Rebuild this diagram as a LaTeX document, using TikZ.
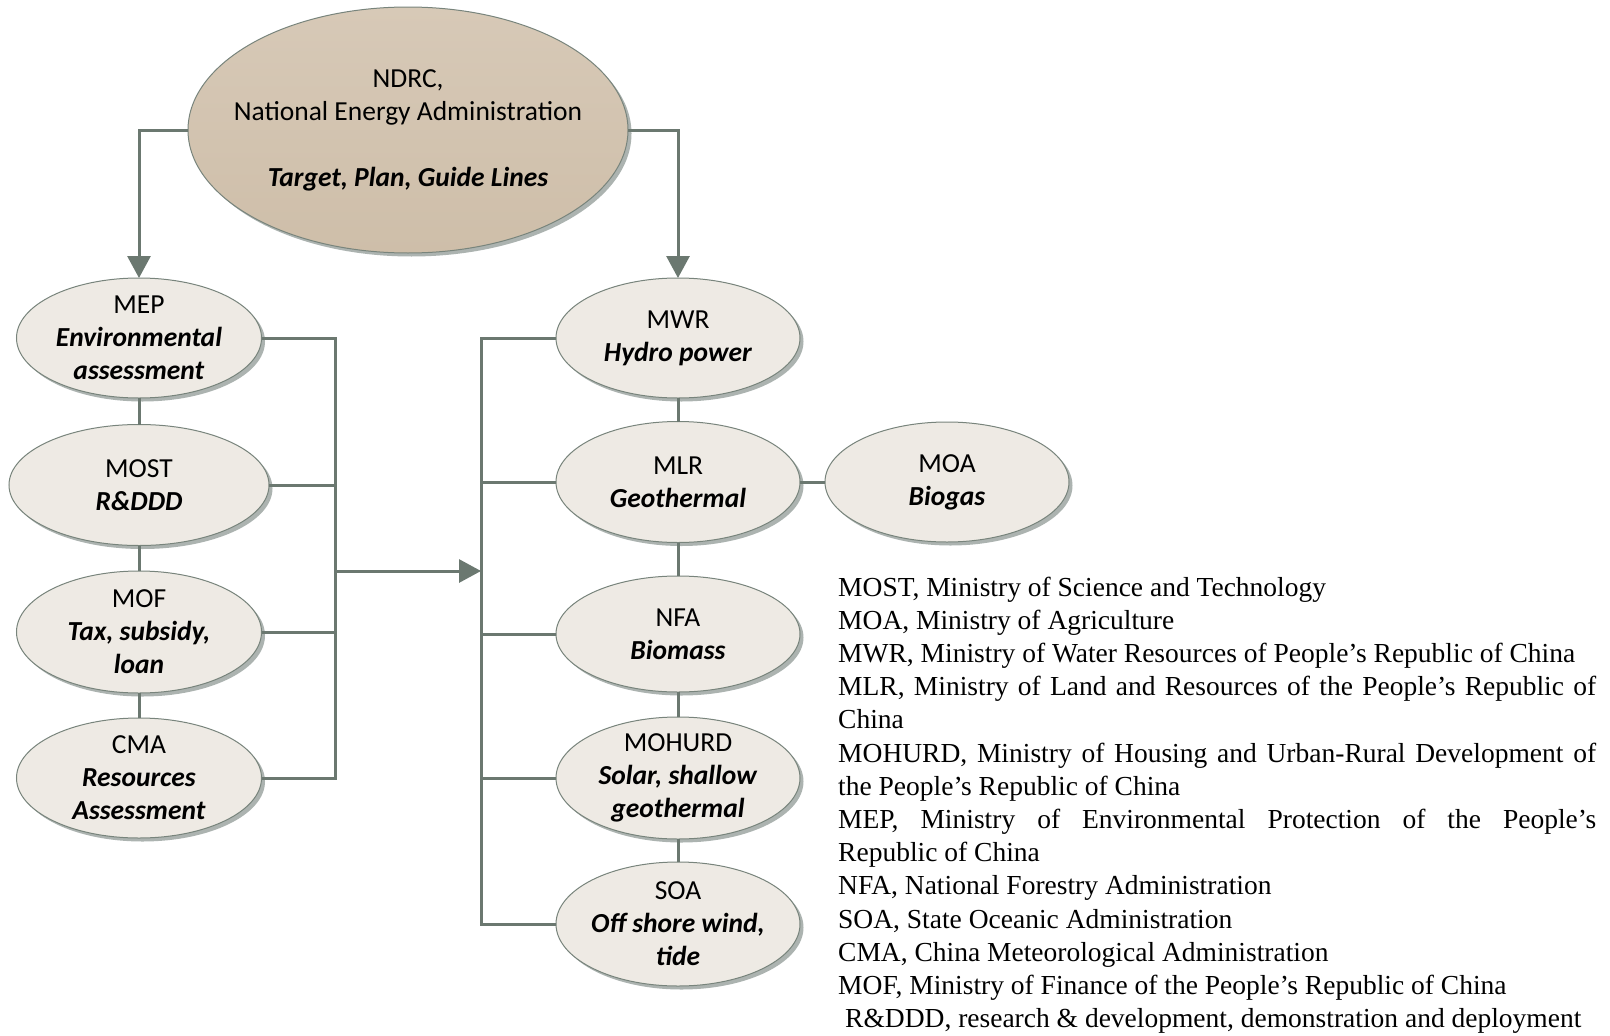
\documentclass[tikz,border=0pt]{standalone}
\usepackage{fontspec}
\setmainfont{Carlito}
\newfontfamily\legendfont{Liberation Serif}
\usetikzlibrary{shapes.geometric,arrows.meta,shadows}
\definecolor{conncol}{RGB}{107,120,112}
\definecolor{edgecol}{RGB}{120,132,124}
\definecolor{lightfill}{RGB}{238,234,228}
\definecolor{shadowcol}{RGB}{172,179,176}
\definecolor{topfillA}{RGB}{215,201,183}
\definecolor{topfillB}{RGB}{206,190,169}
\newcommand{\orgem}[1]{\textbf{\textit{#1}}}
\begin{document}
\begin{tikzpicture}[x=1pt,y=-1pt,
  every node/.style={font=\fontsize{27.5}{33}\selectfont},
  orgbase/.style={ellipse, draw=edgecol, line width=1pt, inner xsep=-30pt, inner ysep=-20pt,
    outer sep=0pt, align=center,
    drop shadow={shadow xshift=3.5pt, shadow yshift=-3.5pt, fill=shadowcol, opacity=1}},
  org/.style={orgbase, fill=lightfill},
  toporg/.style={orgbase, top color=topfillA, bottom color=topfillB},
  conn/.style={draw=conncol, line width=3pt},
  arr/.style={conn, -{Triangle[length=22pt,width=23pt]}},
  leg/.style={font=\legendfont\fontsize{27.5}{33}\selectfont, anchor=base west, inner sep=0pt},
]
\fill[white] (0,0) rectangle (1610,1036);
\useasboundingbox (0,0) rectangle (1610,1036);

% top
\node[toporg, minimum width=440pt, minimum height=246pt] (ndrc) at (408,130)
  {NDRC,\\National Energy Administration\\[33pt]\orgem{Target, Plan, Guide Lines}};

% left column
\node[org, minimum width=245pt, minimum height=120pt] (mep) at (139,338)
  {MEP\\\orgem{Environmental}\\\orgem{assessment}};
\node[org, minimum width=260pt, minimum height=121pt] (most) at (139,485)
  {MOST\\\orgem{R\&DDD}};
\node[org, minimum width=245pt, minimum height=122pt] (mof) at (139,632)
  {MOF\\\orgem{Tax, subsidy,}\\\orgem{loan}};
\node[org, minimum width=245pt, minimum height=120pt] (cma) at (139,778)
  {CMA\\\orgem{Resources}\\\orgem{Assessment}};

% right column
\node[org, minimum width=244pt, minimum height=120pt] (mwr) at (678,338)
  {MWR\\\orgem{Hydro power}};
\node[org, minimum width=244pt, minimum height=121pt] (mlr) at (678,482)
  {MLR\\\orgem{Geothermal}};
\node[org, minimum width=244pt, minimum height=120pt] (moa) at (947,482)
  {MOA\\\orgem{Biogas}};
\node[org, minimum width=244pt, minimum height=116pt] (nfa) at (678,634)
  {NFA\\\orgem{Biomass}};
\node[org, minimum width=244pt, minimum height=122pt] (mohurd) at (678,778)
  {MOHURD\\\orgem{Solar, shallow}\\\orgem{geothermal}};
\node[org, minimum width=244pt, minimum height=124pt] (soa) at (678,924)
  {SOA\\\orgem{Off shore wind,}\\\orgem{tide}};

% connectors from top
\draw[arr] (ndrc.west) -| (mep.north);
\draw[arr] (ndrc.east) -| (mwr.north);

% left chain
\draw[conn] (mep.south) -- (most.north);
\draw[conn] (most.south) -- (mof.north);
\draw[conn] (mof.south) -- (cma.north);

% right chain
\draw[conn] (mwr.south) -- (mlr.north);
\draw[conn] (mlr.south) -- (nfa.north);
\draw[conn] (nfa.south) -- (mohurd.north);
\draw[conn] (mohurd.south) -- (soa.north);
\draw[conn] (mlr.east) -- (moa.west);

% buses
\coordinate (busL) at (335,571);
\coordinate (busR) at (481,571);
\draw[conn] (mep.east) -| (busL);
\draw[conn] (cma.east) -| (busL);
\draw[conn] (most.east) -- (most.east -| busL);
\draw[conn] (mof.east) -- (mof.east -| busL);
\draw[conn] (mwr.west) -| (busR);
\draw[conn] (soa.west) -| (busR);
\draw[conn] (mlr.west) -- (mlr.west -| busR);
\draw[conn] (nfa.west) -- (nfa.west -| busR);
\draw[conn] (mohurd.west) -- (mohurd.west -| busR);
\draw[arr] (busL) -- (busR);

% legend
\node[leg] (leg1) at (838,596.0) {MOST, Ministry of Science and Technology};
\node[leg] (leg2) at (838,629.2) {MOA, Ministry of Agriculture};
\node[leg] (leg3) at (838,662.4) {MWR, Ministry of Water Resources of People’s Republic of China};
\node[leg] (leg4) at (838,695.6) {\makebox[758pt][s]{MLR, Ministry of Land and Resources of the People’s Republic of}};
\node[leg] (leg5) at (838,728.8) {China};
\node[leg] (leg6) at (838,762.0) {\makebox[758pt][s]{MOHURD, Ministry of Housing and Urban-Rural Development of}};
\node[leg] (leg7) at (838,795.2) {the People’s Republic of China};
\node[leg] (leg8) at (838,828.4) {\makebox[758pt][s]{MEP, Ministry of Environmental Protection of the People’s}};
\node[leg] (leg9) at (838,861.6) {Republic of China};
\node[leg] (leg10) at (838,894.8) {NFA, National Forestry Administration};
\node[leg] (leg11) at (838,928.0) {SOA, State Oceanic Administration};
\node[leg] (leg12) at (838,961.2) {CMA, China Meteorological Administration};
\node[leg] (leg13) at (838,994.4) {MOF, Ministry of Finance of the People’s Republic of China};
\node[leg] (leg14) at (845,1027.6) {R\&DDD, research \& development, demonstration and deployment};
\end{tikzpicture}
\end{document}
